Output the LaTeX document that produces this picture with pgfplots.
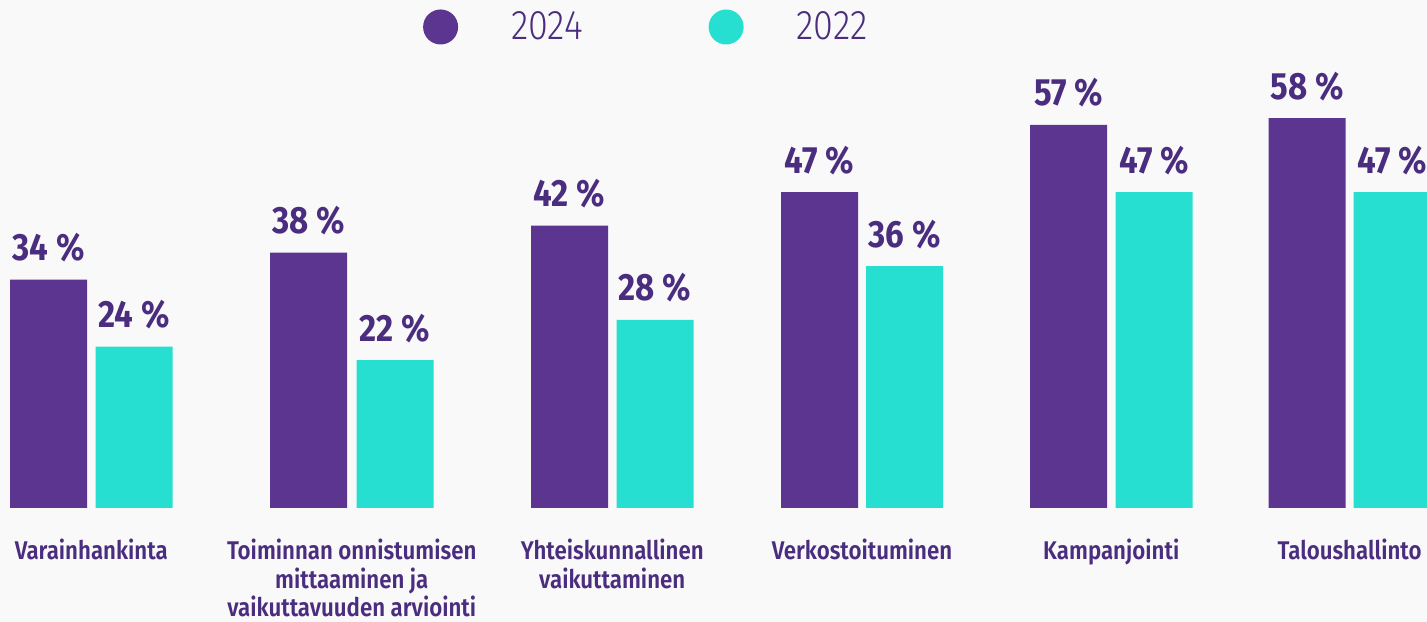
\documentclass[border=0pt]{standalone}
\usepackage{fontspec}
\setmainfont{Fira Sans}[FakeStretch=0.87]
\newfontfamily\legfont{Fira Sans Light}[FakeStretch=0.87]
\newfontfamily\semib{Fira Sans SemiBold}[FakeStretch=0.87]
\usepackage{pgfplots}
\pgfplotsset{compat=1.18}
\definecolor{cpurple}{HTML}{5B358F}
\definecolor{cteal}{HTML}{26DFD1}
\definecolor{ctext}{HTML}{4B2D7F}
\definecolor{cbg}{HTML}{F9F9F9}
\begin{document}
\begin{tikzpicture}
\begin{axis}[
  name=ax,
  scale only axis,
  width=713.5pt, height=311pt,
  xmin=0, xmax=1427,
  ymin=-16.964, ymax=75.595,
  axis line style={draw=none},
  axis background/.style={fill=cbg},
  ybar, bar width=77,
  ytick=\empty,
  xtick={91.25,351.75,612.25,862,1111.25,1349.5},
  xticklabels={Varainhankinta,Toiminnan onnistumisen\\mittaaminen ja\\vaikuttavuuden arviointi,Yhteiskunnallinen\\vaikuttaminen,Verkostoituminen,Kampanjointi,Taloushallinto},
  xticklabel style={align=center, anchor=north, yshift=45pt, font=\fontsize{12.8}{14.3}\semib, text=ctext},
  major tick length=0pt,
  nodes near coords={\pgfmathprintnumber[assume math mode=true]{\pgfplotspointmeta}~\%},
  every node near coord/.append style={anchor=base, inner sep=0pt, yshift=9.5pt, font=\fontsize{19}{22}\selectfont\bfseries, text=ctext},
  legend columns=2,
  legend image code/.code={\fill[#1] (0pt,0pt) circle (8.75pt);},
  legend style={draw=none, fill=none, at={(rel axis cs:0.292,0.9566)}, anchor=west, font=\fontsize{20.7}{24}\legfont, text=ctext,
    /tikz/every odd column/.append style={column sep=24.5pt},
    /tikz/every even column/.append style={column sep=61pt}},
  clip=true,
]
\addplot[fill=cpurple, draw=none, bar shift=0] coordinates {(48.5,34) (308.5,38) (569.5,42) (819.5,47) (1068.5,57) (1307,58)};
\addplot[fill=cteal, draw=none, bar shift=0] coordinates {(134,24) (395,22) (655,28) (904.5,36) (1154,47) (1392,47)};
\legend{2024,2022}
\end{axis}
\pgfresetboundingbox
\path (ax.south west) rectangle (ax.north east);
\end{tikzpicture}
\end{document}
